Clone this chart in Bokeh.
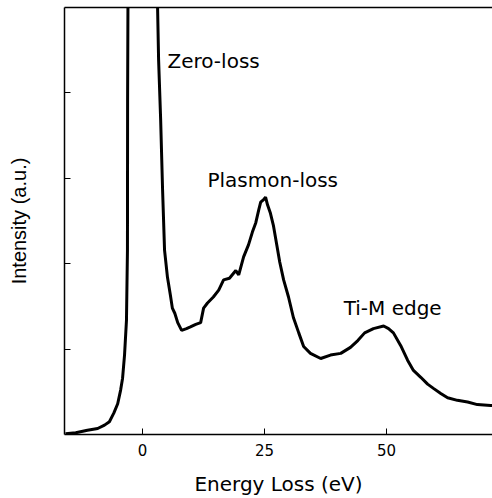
from bokeh.plotting import figure
from bokeh.models import LinearAxis, FixedTicker, Label, Range1d
from bokeh.embed import file_html
from bokeh.resources import INLINE

# Energy loss (eV) and intensity (a.u.)
energy = [-15.8, -13.7, -11.3, -9.2, -7.8, -6.8, -5.9, -5.1, -4.5, -4.1, -3.7, -3.3,
          -3.1, -3.07, -3.0, 0.0, 3.07, 3.28, 3.7, 4.1, 4.5, 5.1, 5.7, 6.1, 6.6, 7.2,
          8.0, 9.0, 9.8, 10.9, 11.9, 12.5, 13.3, 14.5, 15.6, 16.6, 17.8, 19.1, 19.7,
          20.7, 21.7, 22.5, 23.2, 23.8, 24.2, 24.8, 25.2, 25.6, 26.2, 26.8, 27.5,
          28.1, 28.9, 29.9, 30.9, 32.0, 33.0, 34.4, 36.5, 38.5, 40.6, 42.6, 44.1,
          45.5, 47.3, 49.4, 50.4, 51.4, 52.9, 54.3, 55.5, 57.0, 58.4, 59.6, 61.1,
          62.5, 64.5, 66.6, 68.6, 71.3, 72.0]
intensity = [0.01, 0.02, 0.05, 0.07, 0.11, 0.15, 0.25, 0.36, 0.52, 0.66, 0.93, 1.34,
             2.16, 3.92, 5.0, 80.0, 5.01, 4.39, 3.69, 2.86, 2.16, 1.84, 1.63, 1.48,
             1.42, 1.31, 1.22, 1.24, 1.26, 1.29, 1.31, 1.48, 1.54, 1.61, 1.69, 1.81,
             1.83, 1.92, 1.87, 2.08, 2.22, 2.37, 2.48, 2.63, 2.72, 2.75, 2.78, 2.69,
             2.59, 2.45, 2.22, 2.02, 1.81, 1.61, 1.37, 1.19, 1.03, 0.95, 0.89, 0.93,
             0.95, 1.02, 1.10, 1.19, 1.24, 1.27, 1.24, 1.19, 1.04, 0.87, 0.75, 0.67,
             0.59, 0.54, 0.48, 0.43, 0.40, 0.38, 0.35, 0.34, 0.34]

x_ticks = [0, 25, 50]
y_ticks = [1, 2, 3, 4]

annotations = [("Zero-loss", 5.1, 4.37), ("Plasmon-loss", 13.3, 2.98), ("Ti-M edge", 41.2, 1.48)]

p = figure(width=492, height=498, output_backend="svg", toolbar_location=None,
           x_range=Range1d(-16.0, 71.7), y_range=Range1d(0, 5.0),
           min_border_left=64, min_border_right=0, min_border_top=7, min_border_bottom=10,
           background_fill_color="white", border_fill_color="white")
p.outline_line_color = None
p.xgrid.visible = False
p.ygrid.visible = False

p.line(energy, intensity, line_color="black", line_width=3)

ax = p.xaxis[0]
ax.ticker = FixedTicker(ticks=x_ticks)
ax.axis_label = "Energy Loss (eV)"
ax.axis_label_text_font = "DejaVu Sans"
ax.axis_label_text_font_style = "normal"
ax.axis_label_text_font_size = "20px"
ax.axis_label_text_color = "black"
ax.axis_label_standoff = 13
ax.major_label_text_font = "DejaVu Sans"
ax.major_label_text_font_size = "15px"
ax.major_label_text_color = "black"
ax.major_label_standoff = 9
ax.major_tick_in = 6
ax.major_tick_out = 0
ax.minor_tick_line_color = None
ax.axis_line_width = 1.5
ax.axis_line_color = "black"
ax.major_tick_line_color = "black"

ay = p.yaxis[0]
ay.ticker = FixedTicker(ticks=y_ticks)
ay.axis_label = "Intensity (a.u.)"
ay.axis_label_text_font = "Liberation Sans"
ay.axis_label_text_font_style = "normal"
ay.axis_label_text_font_size = "20px"
ay.axis_label_text_color = "black"
ay.axis_label_standoff = 35
ay.major_label_text_font_size = "1px"
ay.major_label_text_color = None
ay.major_tick_in = 6
ay.major_tick_out = 0
ay.minor_tick_line_color = None
ay.axis_line_width = 1.5
ay.axis_line_color = "black"
ay.major_tick_line_color = "black"

top = LinearAxis(ticker=FixedTicker(ticks=[]), major_label_text_font_size="1px",
                 major_label_text_color=None, major_tick_line_color=None,
                 minor_tick_line_color=None, axis_line_width=1.5, axis_line_color="black")
p.add_layout(top, "above")

for txt, xx, yy in annotations:
    p.add_layout(Label(x=xx, y=yy, text=txt, text_font="DejaVu Sans", text_font_size="20px",
                       text_color="black", text_baseline="alphabetic", text_align="left"))

open("out.html", "w").write(file_html(p, INLINE))
